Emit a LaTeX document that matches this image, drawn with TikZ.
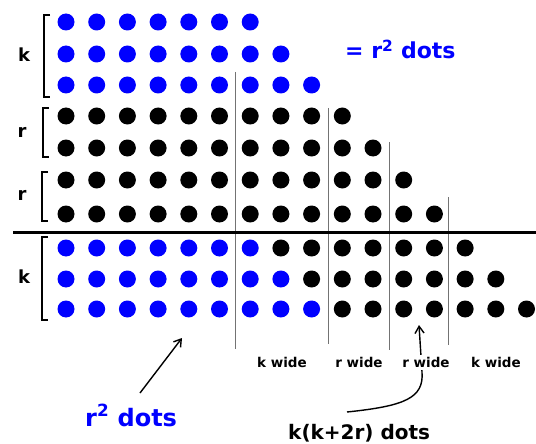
\documentclass[tikz,border=0pt]{standalone}
\usepackage{fontspec}
\setmainfont{DejaVu Sans}
\usetikzlibrary{arrows.meta}
\tikzset{
  sep/.style={black!55, line width=1pt},
  brk/.style={black, line width=1.3pt},
  side/.style={font=\fontsize{18}{18}\selectfont\bfseries, inner sep=0pt},
  wide/.style={font=\fontsize{13.5}{14}\selectfont\bfseries, inner sep=0pt},
  wlab/.style={wide, fill=white, inner sep=2pt},
  big/.style={font=\fontsize{22}{24}\selectfont\bfseries, inner sep=0pt},
  ptr/.style={black, line width=1.4pt, -{Straight Barb[length=7pt,width=9pt]}}
}
\begin{document}
\begin{tikzpicture}[x=1pt,y=-1pt]
\useasboundingbox (0,0) rectangle (536,444);
% dots
\foreach \yy/\nb/\nt in {22/7/7,54/8/8,85/9/9,116/0/10,148/0/11,180/0/12,214/0/13,248/7/14,279/8/15,309/9/16}{
  \foreach \i in {1,...,\nt}{
    \ifnum\i>\nb \def\dc{black}\else\def\dc{blue}\fi
    \fill[\dc] ({66+30.7*(\i-1)},\yy) circle[radius=8.5pt];
  }
}
% separators
\draw[sep] (235,72) -- (235,349);
\draw[sep] (328,108) -- (328,344);
\draw[sep] (389,142) -- (389,350);
\draw[sep] (448,197) -- (448,345);
\draw[black, line width=3pt] (13,232) -- (536,232);
% brackets
\draw[brk] (50,15) -- (44,15) -- (44,97) -- (50,97);
\draw[brk] (49,108) -- (43,108) -- (43,157) -- (49,157);
\draw[brk] (48,172) -- (42,172) -- (42,221) -- (48,221);
\draw[brk] (48,237) -- (42,237) -- (42,320) -- (48,320);
\node[side] (k1) at (24,55) {k};
\node[side] (r1) at (22,132) {r};
\node[side] (r2) at (22,195) {r};
\node[side] (k2) at (24,277) {k};
% top label
\node[big, blue, anchor=base west] (top) at (345,59) {= r\textsuperscript{2} dots};
% bottom labels
\node[big, blue, anchor=base west, font=\fontsize{24}{26}\selectfont\bfseries] (rsq) at (85,426) {r\textsuperscript{2} dots};
\node[big, anchor=base west, font=\fontsize{20}{22}\selectfont\bfseries] (kk) at (288,439) {k(k+2r) dots};
\coordinate (a1s) at (140,393);
\coordinate (a1e) at (182,338);
\draw[ptr] (a1s) -- (a1e);
\coordinate (a2s) at (347,412);
\coordinate (a2e) at (419,325);
\draw[ptr] (a2s) .. controls (405,406) and (424,398) .. (422,372) -- (a2e);
\node[wide] (w1) at (282,362.5) {k wide};
\node[wide] (w2) at (359,362.5) {r wide};
\node[wlab] (w3) at (426,362.5) {r wide};
\node[wide] (w4) at (496,362.5) {k wide};
\end{tikzpicture}
\end{document}
